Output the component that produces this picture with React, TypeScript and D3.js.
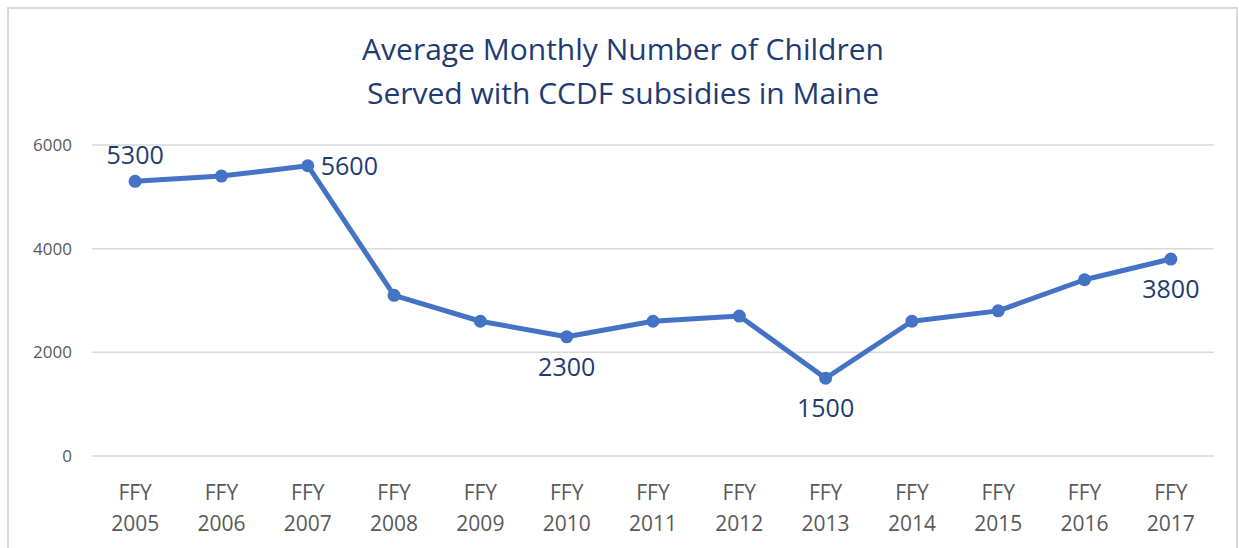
import * as d3 from 'd3';

const years = ['2005', '2006', '2007', '2008', '2009', '2010', '2011', '2012', '2013', '2014', '2015', '2016', '2017'];
const children = [5300, 5400, 5600, 3100, 2600, 2300, 2600, 2700, 1500, 2600, 2800, 3400, 3800];
const yTicks = [0, 2000, 4000, 6000];
// which points get a data label, and where it sits
const labelled: Record<string, string> = {
  '2005': 'above',
  '2007': 'right',
  '2010': 'below',
  '2013': 'below',
  '2017': 'below',
};

const W = 1239;
const H = 548;
const font = '"Open Sans", "Noto Sans", sans-serif';

export default function App() {
  const x = d3.scalePoint<string>().domain(years).range([92, 1214]).padding(0.5);
  const y = d3.scaleLinear().domain([0, 6000]).range([456, 145]);

  const points = years.map((yr, i) => ({ yr, v: children[i] }));
  const line = d3
    .line<{ yr: string; v: number }>()
    .x((d) => x(d.yr) as number)
    .y((d) => y(d.v));

  return (
    <svg
      width={W}
      height={H}
      style={{ position: 'absolute', left: 0, top: 0, background: '#fff' }}
    >
      <rect x={8} y={8} width={1229} height={560} fill="#fff" stroke="#d9d9d9" strokeWidth={2} />

      <text textAnchor="middle" fill="#1f3b73" fontFamily={font} fontSize={30}>
        <tspan x={623} y={60}>Average Monthly Number of Children</tspan>
        <tspan x={623} y={104}>Served with CCDF subsidies in Maine</tspan>
      </text>

      {yTicks.map((t) => (
        <g key={t}>
          <line x1={92} x2={1214} y1={y(t)} y2={y(t)} stroke="#d9d9d9" strokeWidth={1.5} />
          <text x={72} y={y(t) + 6} textAnchor="end" fill="#595959" fontFamily={font} fontSize={17}>
            {t}
          </text>
        </g>
      ))}

      {years.map((yr) => (
        <text key={yr} textAnchor="middle" fill="#595959" fontFamily={font} fontSize={21}>
          <tspan x={x(yr)} y={500}>FFY</tspan>
          <tspan x={x(yr)} y={531}>{yr}</tspan>
        </text>
      ))}

      <path d={line(points) || ''} fill="none" stroke="#4472c4" strokeWidth={5} strokeLinejoin="round" />
      {points.map((d) => (
        <circle key={d.yr} cx={x(d.yr)} cy={y(d.v)} r={6.5} fill="#4472c4" />
      ))}

      {points
        .filter((d) => labelled[d.yr])
        .map((d) => {
          const pos = labelled[d.yr];
          const px = x(d.yr) as number;
          const py = y(d.v);
          let lx = px;
          let ly = py;
          let anchor = 'middle';
          if (pos === 'above') ly = py - 17;
          if (pos === 'below') ly = py + 39;
          if (pos === 'right') {
            lx = px + 13;
            ly = py + 9;
            anchor = 'start';
          }
          return (
            <text key={d.yr} x={lx} y={ly} textAnchor={anchor} fill="#1f3b73" fontFamily={font} fontSize={25}>
              {d.v}
            </text>
          );
        })}
    </svg>
  );
}
